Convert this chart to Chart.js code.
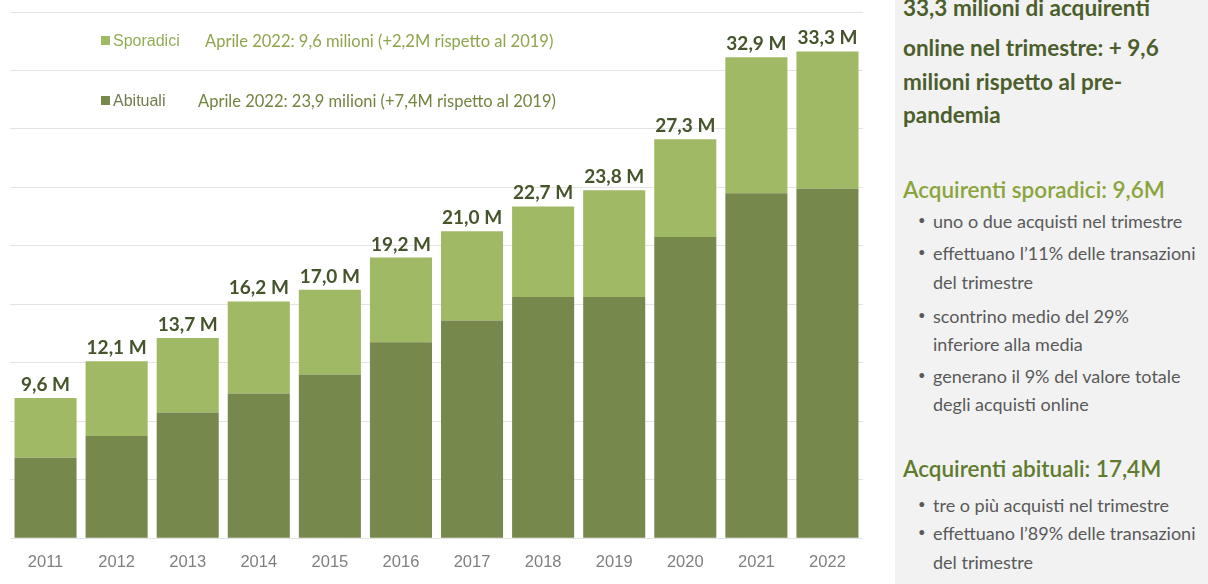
<!DOCTYPE html>
<html>
<head>
<meta charset="utf-8">
<script src="https://cdn.jsdelivr.net/npm/chart.js@4"></script>
<style>
  html, body { margin:0; padding:0; background:#fff; width:1208px; height:584px; overflow:hidden; }
  #wrap { position:relative; width:1208px; height:584px; }
  #c { position:absolute; left:0; top:0; }
  .leg { position:absolute; white-space:nowrap; font-size:16px; }
  .sq { display:inline-block; width:9px; height:9px; margin-right:3px; vertical-align:1px; }
  .legname { font-family:"Liberation Sans", Arial, sans-serif; }
  .legtxt { font-family:Lato, "Open Sans", sans-serif; position:absolute; white-space:nowrap; font-size:16.5px; }
  #panel { position:absolute; left:895px; top:0; width:313px; height:584px; background:#f2f2f2; font-family:Lato, "Open Sans", sans-serif; overflow:hidden; }
  .t { position:absolute; left:8px; white-space:nowrap; }
  .title { font-weight:700; font-size:22.5px; color:#4b5e2c; line-height:33px; }
  .h { font-weight:600; font-size:22.5px; }
  .b { font-size:18px; color:#595959; left:38px; }
  .dot { position:absolute; left:-15px; font-size:13px; top:2px; }
</style>
</head>
<body>
<div id="wrap">
  <canvas id="c" width="880" height="584"></canvas>
  <div class="leg" style="left:101px; top:32px; color:#92ae55;"><span class="sq" style="background:#9fb964"></span><span class="legname">Sporadici</span></div>
  <div class="legtxt" style="left:205px; top:31px; color:#8da54c;">Aprile 2022: 9,6 milioni (+2,2M rispetto al 2019)</div>
  <div class="leg" style="left:101px; top:92px; color:#6f7d4d;"><span class="sq" style="background:#77884c"></span><span class="legname">Abituali</span></div>
  <div class="legtxt" style="left:198px; top:91px; color:#72843f;">Aprile 2022: 23,9 milioni (+7,4M rispetto al 2019)</div>

  <div id="panel">
    <div class="t title" style="top:-9px;">33,3 milioni di acquirenti</div>
    <div class="t title" style="top:31px;">online nel trimestre: + 9,6</div>
    <div class="t title" style="top:65px;">milioni rispetto al pre-</div>
    <div class="t title" style="top:98px;">pandemia</div>

    <div class="t h" style="top:176px; color:#8aa53c;">Acquirenti sporadici: 9,6M</div>
    <div class="t b" style="top:210px;"><span class="dot">•</span>uno o due acquisti nel trimestre</div>
    <div class="t b" style="top:242px;"><span class="dot">•</span>effettuano l’11% delle transazioni</div>
    <div class="t b" style="top:271px;">del trimestre</div>
    <div class="t b" style="top:305px;"><span class="dot">•</span>scontrino medio del 29%</div>
    <div class="t b" style="top:333px;">inferiore alla media</div>
    <div class="t b" style="top:365px;"><span class="dot">•</span>generano il 9% del valore totale</div>
    <div class="t b" style="top:393px;">degli acquisti online</div>

    <div class="t h" style="top:455px; color:#5f7b2e;">Acquirenti abituali: 17,4M</div>
    <div class="t b" style="top:494px;"><span class="dot">•</span>tre o più acquisti nel trimestre</div>
    <div class="t b" style="top:522px;"><span class="dot">•</span>effettuano l’89% delle transazioni</div>
    <div class="t b" style="top:551px;">del trimestre</div>
  </div>
</div>
<script>
const years = ['2011','2012','2013','2014','2015','2016','2017','2018','2019','2020','2021','2022'];
const abituali = [5.5, 7.0, 8.6, 9.9, 11.2, 13.4, 14.9, 16.5, 16.5, 20.6, 23.6, 23.9];
const sporadici = [4.1, 5.1, 5.1, 6.3, 5.8, 5.8, 6.1, 6.2, 7.3, 6.7, 9.3, 9.4];
const totalLabels = ['9,6 M','12,1 M','13,7 M','16,2 M','17,0 M','19,2 M','21,0 M','22,7 M','23,8 M','27,3 M','32,9 M','33,3 M'];
const yMax = 36;
const yStep = 4;

const totalsPlugin = {
  id: 'totals',
  afterDatasetsDraw(chart) {
    const meta = chart.getDatasetMeta(1);
    const ctx = chart.ctx;
    ctx.save();
    ctx.font = 'bold 19px Lato, "Open Sans", sans-serif';
    ctx.fillStyle = '#45542a';
    ctx.textAlign = 'center';
    ctx.textBaseline = 'alphabetic';
    meta.data.forEach((el, i) => {
      ctx.fillText(totalLabels[i], el.x, el.y - 7);
    });
    ctx.restore();
  }
};

new Chart(document.getElementById('c'), {
  type: 'bar',
  data: {
    labels: years,
    datasets: [
      { label: 'Abituali', data: abituali, backgroundColor: '#77884c', borderWidth: 0 },
      { label: 'Sporadici', data: sporadici, backgroundColor: '#9fb964', borderWidth: 0 }
    ]
  },
  options: {
    responsive: false,
    animation: false,
    devicePixelRatio: 1,
    layout: { padding: { left: 10, right: 17, top: 12, bottom: 6 } },
    plugins: { legend: { display: false }, tooltip: { enabled: false } },
    datasets: { bar: { categoryPercentage: 1.0, barPercentage: 0.873 } },
    scales: {
      x: {
        stacked: true,
        grid: { display: false },
        border: { display: false },
        ticks: { color: '#7f7f7f', font: { family: '"Liberation Sans", Arial, sans-serif', size: 16.5 }, padding: 6 }
      },
      y: {
        stacked: true,
        min: 0, max: yMax,
        ticks: { display: false, stepSize: yStep },
        grid: { color: '#e3e3e3', lineWidth: 1, drawTicks: false },
        border: { display: false }
      }
    }
  },
  plugins: [totalsPlugin]
});
</script>
</body>
</html>
